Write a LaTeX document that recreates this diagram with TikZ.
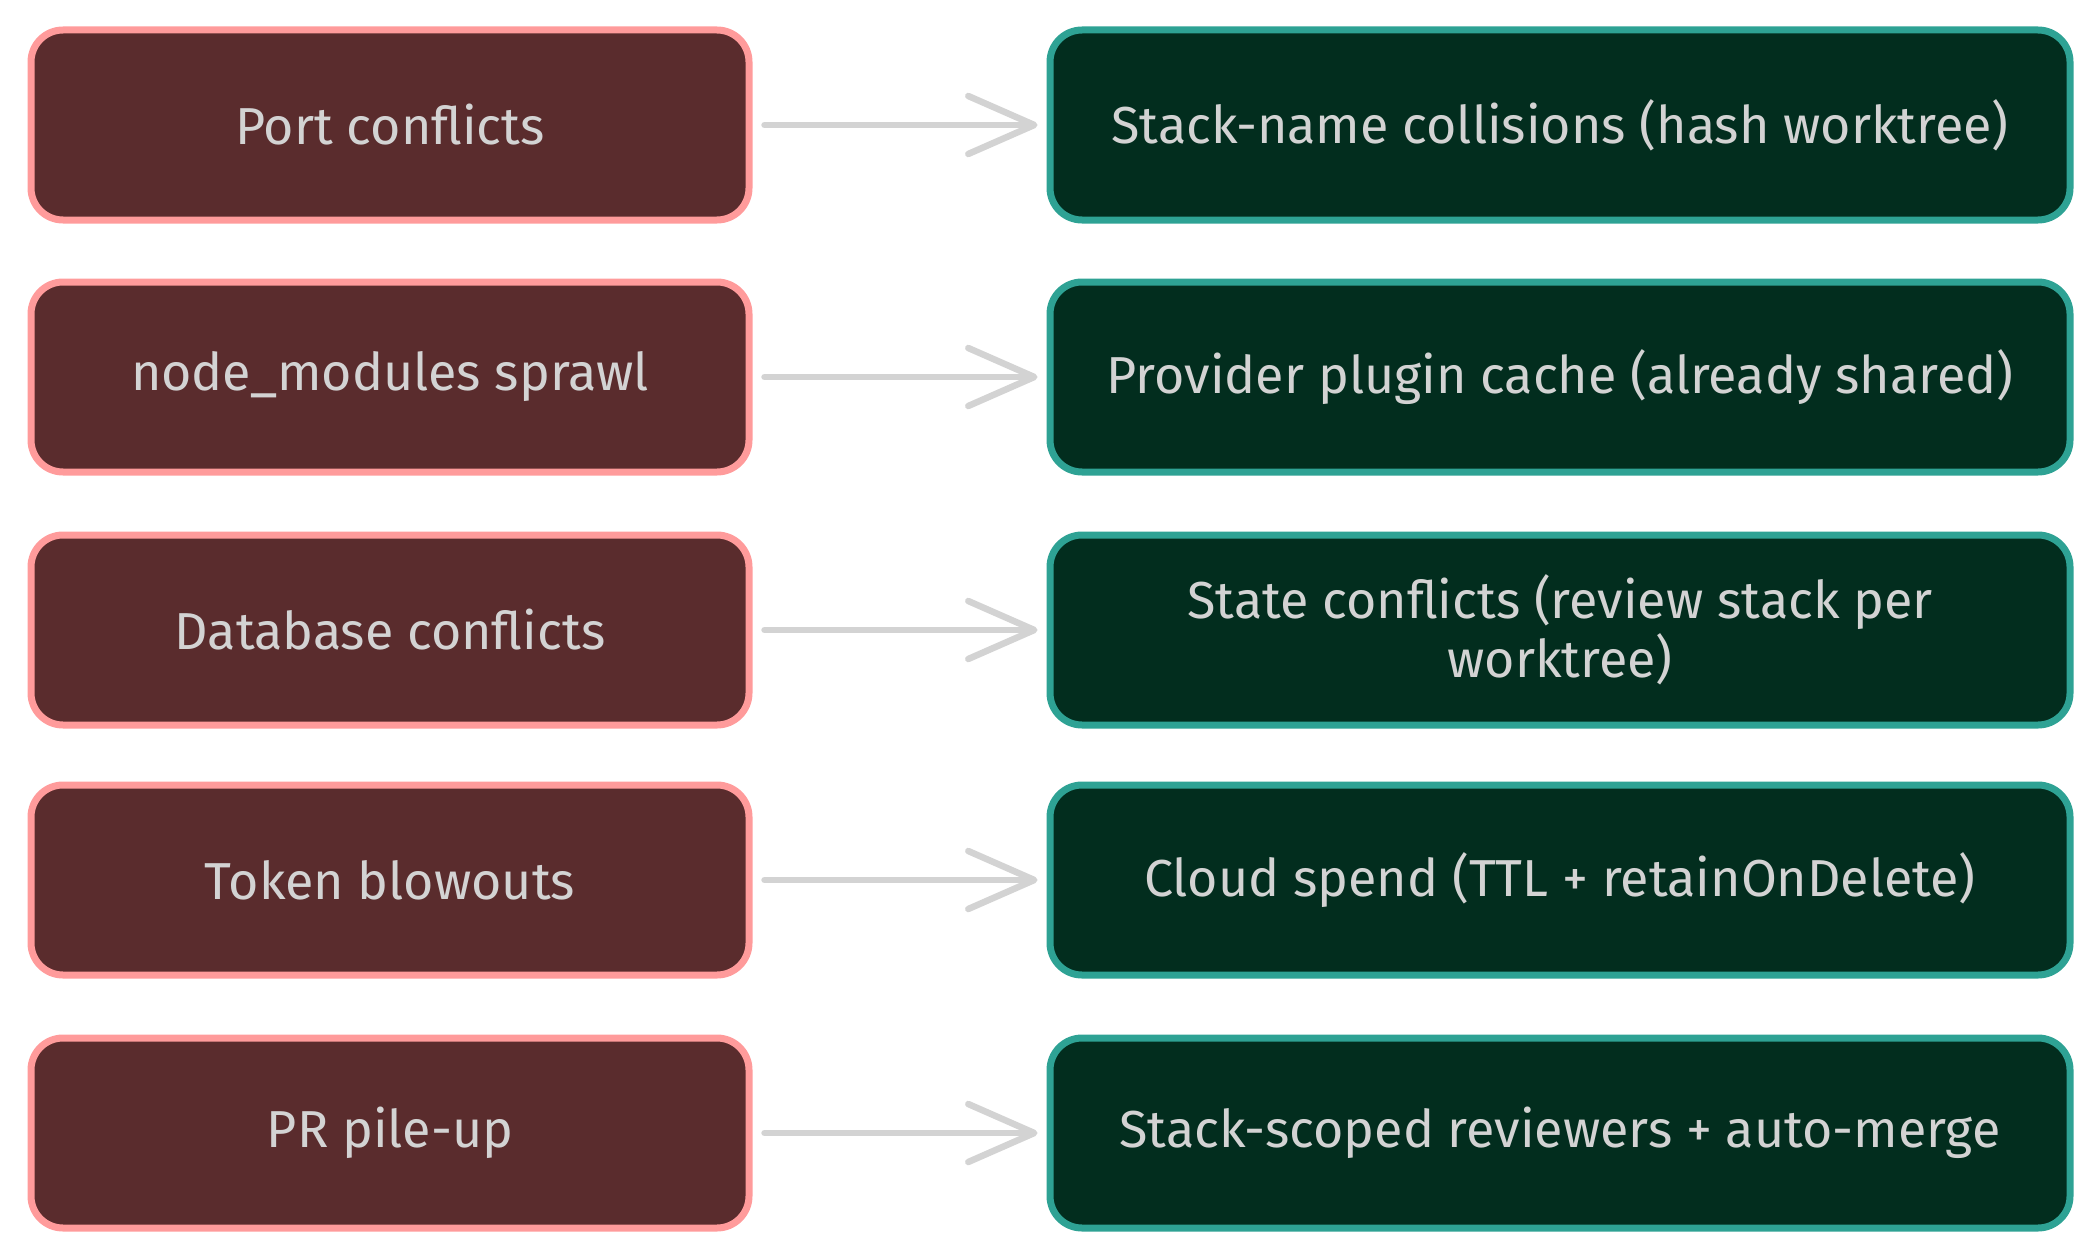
\documentclass[tikz,border=0pt]{standalone}
\usepackage{fontspec}
\setmainfont{Fira Sans}
\usetikzlibrary{arrows.meta}
\definecolor{probfill}{HTML}{5A2C2D}
\definecolor{probline}{HTML}{FF9B9B}
\definecolor{fixfill}{HTML}{022D1E}
\definecolor{fixline}{HTML}{2EA294}
\definecolor{txt}{HTML}{D3D3D3}
\tikzset{
  base/.style={rectangle, rounded corners=32pt, line width=7pt, minimum height=190pt,
    text=txt, font=\fontsize{52}{59}\selectfont, align=center, inner sep=0pt},
  prob/.style={base, fill=probfill, draw=probline, minimum width=718pt},
  fix/.style={base, fill=fixfill, draw=fixline, minimum width=1020pt},
  conn/.style={draw=txt, line width=6.5pt, line cap=round,
    -{Straight Barb[length=66pt, width=58pt, line width=6.5pt, round]}}
}
\begin{document}
\begin{tikzpicture}[x=1pt,y=-1pt]
\useasboundingbox (0,0) rectangle (2100,1260);
\node[prob] (p1) at (390,125) {Port conflicts};
\node[prob] (p2) at (390,377) {node\_modules sprawl};
\node[prob] (p3) at (390,630) {Database conflicts};
\node[prob] (p4) at (390,880) {Token blowouts};
\node[prob] (p5) at (390,1133) {PR pile-up};
\node[fix] (f1) at (1560,125) {Stack-name collisions (hash worktree)};
\node[fix] (f2) at (1560,377) {Provider plugin cache (already shared)};
\node[fix] (f3) at (1560,630) {State conflicts (review stack per\\worktree)};
\node[fix] (f4) at (1560,880) {Cloud spend (TTL + retainOnDelete)};
\node[fix] (f5) at (1560,1133) {Stack-scoped reviewers + auto-merge};
\foreach \i in {1,...,5}{
  \draw[conn] ([xshift=12pt]p\i.east) -- ([xshift=-9pt]f\i.west);
}
\end{tikzpicture}
\end{document}
